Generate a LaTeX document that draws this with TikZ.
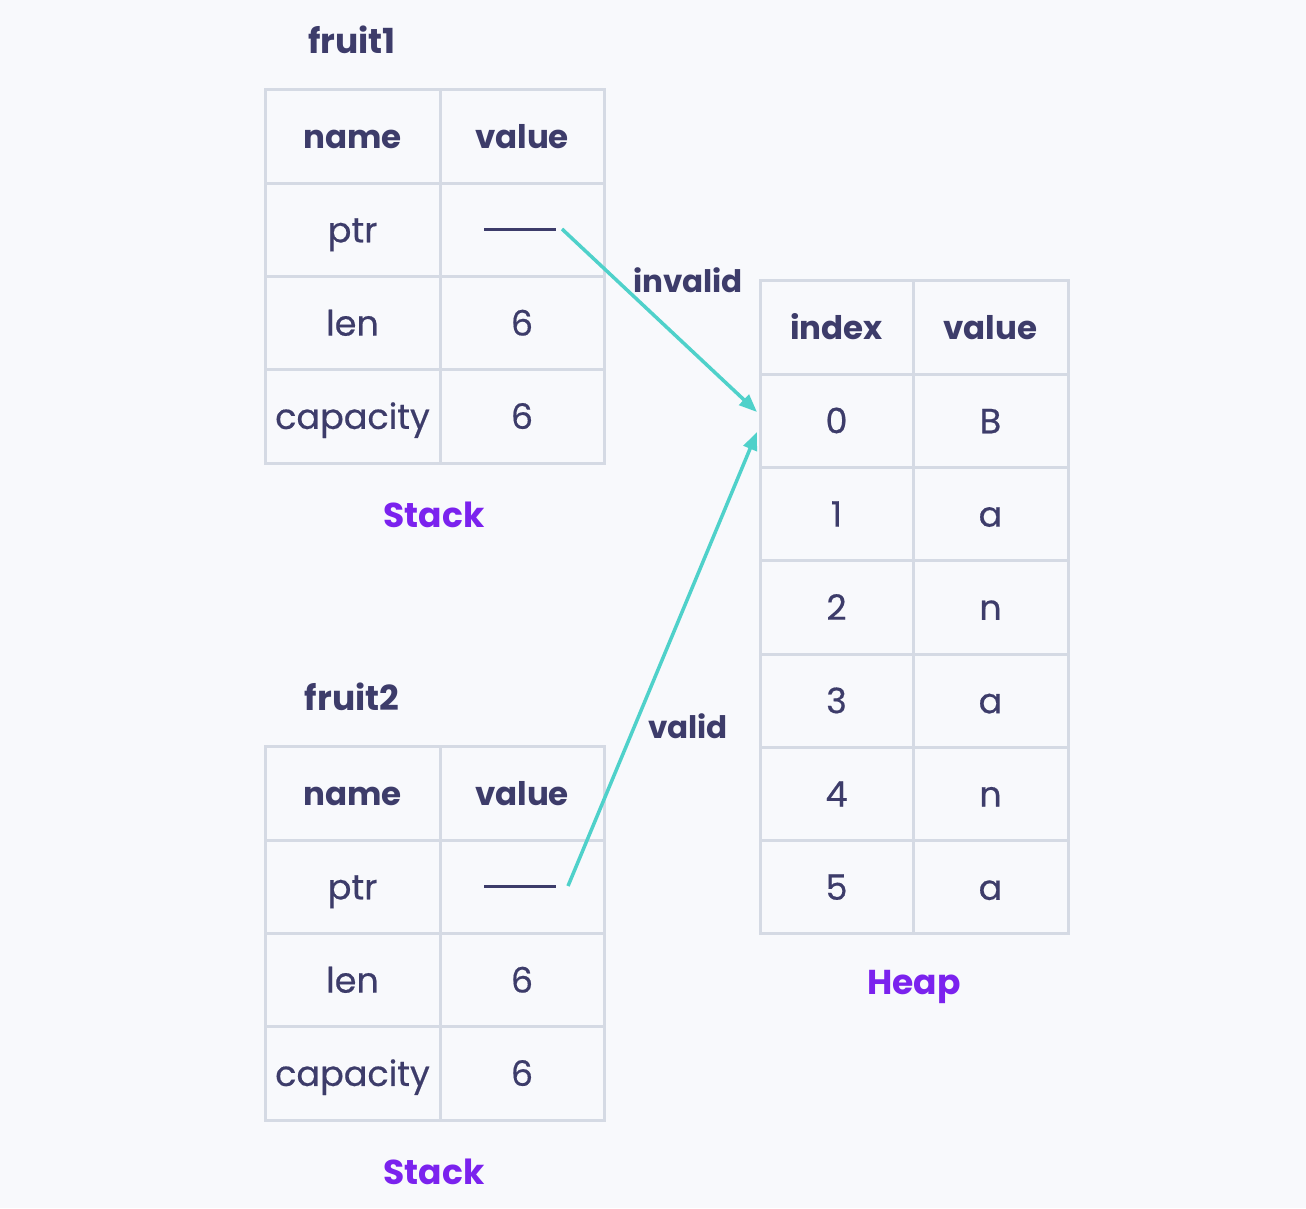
\documentclass[tikz,border=0pt]{standalone}
\usepackage{fontspec}
\setmainfont{Poppins}
\newfontfamily\medfont[FakeBold=0.5]{Poppins}
\usetikzlibrary{arrows.meta}
\definecolor{bgc}{HTML}{F8F9FC}
\definecolor{gridc}{HTML}{D5DAE4}
\definecolor{txtc}{HTML}{3D3C6A}
\definecolor{purp}{HTML}{7B22EE}
\definecolor{tealc}{HTML}{4FD1CA}
\tikzset{
  cell/.style={draw=gridc, line width=3pt, fill=bgc, minimum width=#1, minimum height=93.3pt, inner sep=0pt, text=txtc, text height=30pt, text depth=5pt, font=\medfont\fontsize{35}{40}\selectfont},
  hcell/.style={cell=#1, text height=29pt, text depth=5pt, font=\fontsize{32.5}{38}\selectfont\bfseries},
  ttl/.style={text=txtc, font=\fontsize{34.5}{40}\selectfont\bfseries},
  captxt/.style={text=purp, font=\fontsize{34.5}{40}\selectfont\bfseries},
  lbl/.style={text=txtc, font=\fontsize{31}{36}\selectfont\bfseries},
  ptrdash/.style={draw=txtc, line width=3pt},
  conn/.style={draw=tealc, line width=3.5pt, -{Triangle[length=18pt,width=14pt]}},
}
\begin{document}
\begin{tikzpicture}[x=1pt,y=-1pt]
\fill[bgc] (0,0) rectangle (1306,1208);
\useasboundingbox (0,0) rectangle (1306,1208);
% fruit1 table
\node[ttl] (t1) at (352,40) {fruit1};
\foreach \a/\b [count=\i from 0] in {name/value,ptr/,len/6,capacity/6}{
  \pgfmathsetmacro\yy{136.5+93.3*\i}
  \ifnum\i=0
    \node[hcell=175pt] (a\i) at (352.5,\yy) {\a};
    \node[hcell=164pt] (b\i) at (522,\yy) {\b};
  \else
    \node[cell=175pt] (a\i) at (352.5,\yy) {\a};
    \node[cell=164pt] (b\i) at (522,\yy) {\b};
  \fi
}
\node[captxt] (s1) at (434,515) {Stack};
% fruit2 table
\node[ttl] (t2) at (352,697) {fruit2};
\foreach \a/\b [count=\i from 0] in {name/value,ptr/,len/6,capacity/6}{
  \pgfmathsetmacro\yy{793.5+93.3*\i}
  \ifnum\i=0
    \node[hcell=175pt] (c\i) at (352.5,\yy) {\a};
    \node[hcell=164pt] (d\i) at (522,\yy) {\b};
  \else
    \node[cell=175pt] (c\i) at (352.5,\yy) {\a};
    \node[cell=164pt] (d\i) at (522,\yy) {\b};
  \fi
}
\node[captxt] (s2) at (434,1172) {Stack};
% heap
\foreach \a/\b [count=\i from 0] in {index/value,0/B,1/a,2/n,3/a,4/n,5/a}{
  \pgfmathsetmacro\yy{327.5+93.3*\i}
  \ifnum\i=0
    \node[hcell=153pt] (h\i) at (836.5,\yy) {\a};
    \node[hcell=155pt] (v\i) at (990.5,\yy) {\b};
  \else
    \node[cell=153pt] (h\i) at (836.5,\yy) {\a};
    \node[cell=155pt] (v\i) at (990.5,\yy) {\b};
  \fi
}
\node[captxt] (hp) at (914,987) {Heap};
% pointers
\coordinate (p1s) at (484,229);
\coordinate (p1e) at (556,229);
\coordinate (p2s) at (484,886);
\coordinate (p2e) at (556,886);
\draw[ptrdash] (p1s) -- (p1e);
\draw[ptrdash] (p2s) -- (p2e);
\coordinate (a1s) at (562,229);
\coordinate (a1e) at (757,412);
\coordinate (a2s) at (568,886);
\coordinate (a2e) at (757,432);
\draw[conn] (a1s) -- (a1e);
\draw[conn] (a2s) -- (a2e);
\node[lbl] (inv) at (688,280) {invalid};
\node[lbl] (val) at (688,726) {valid};
\end{tikzpicture}
\end{document}
